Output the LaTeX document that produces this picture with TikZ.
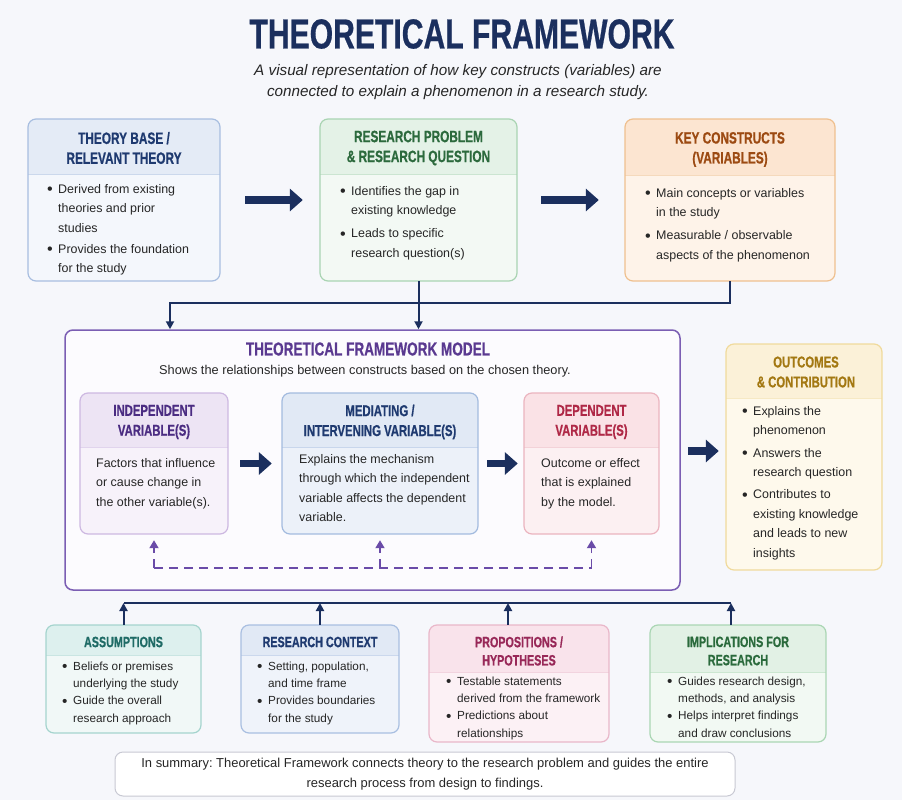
\documentclass[tikz,border=0pt]{standalone}
\usepackage{fontspec}
\setmainfont{Liberation Sans}
\newfontfamily\headfont[FakeStretch=0.72,FakeBold=0.6]{Liberation Sans}
\usetikzlibrary{arrows.meta,fit}
\frenchspacing

\definecolor{bgc}{HTML}{F6F7FB}
\definecolor{navy}{HTML}{1B2F5E}
\definecolor{ink}{HTML}{262626}
% card colours: hd = header, bd = body, ln = border, tx = title
\definecolor{tbhd}{HTML}{E4EBF6}\definecolor{tbbd}{HTML}{F4F7FC}\definecolor{tbln}{HTML}{A8BEE0}\definecolor{tbtx}{HTML}{1F3A70}
\definecolor{rphd}{HTML}{E4F2E7}\definecolor{rpbd}{HTML}{F3F9F4}\definecolor{rpln}{HTML}{A9D4B2}\definecolor{rptx}{HTML}{2C6A3D}
\definecolor{kchd}{HTML}{FCE5D1}\definecolor{kcbd}{HTML}{FEF3E9}\definecolor{kcln}{HTML}{EFC08F}\definecolor{kctx}{HTML}{9C4A12}
\definecolor{ivhd}{HTML}{EDE4F4}\definecolor{ivbd}{HTML}{F7F2FA}\definecolor{ivln}{HTML}{CDB8E1}\definecolor{ivtx}{HTML}{4B2C82}
\definecolor{mvhd}{HTML}{E1E9F5}\definecolor{mvbd}{HTML}{ECF1F9}\definecolor{mvln}{HTML}{A3BBDF}\definecolor{mvtx}{HTML}{1F3A70}
\definecolor{dvhd}{HTML}{FAE2E6}\definecolor{dvbd}{HTML}{FCF0F2}\definecolor{dvln}{HTML}{EBB4BF}\definecolor{dvtx}{HTML}{AF2846}
\definecolor{ochd}{HTML}{FBF1D8}\definecolor{ocbd}{HTML}{FEF9EC}\definecolor{ocln}{HTML}{F0DA9C}\definecolor{octx}{HTML}{A37812}
\definecolor{ashd}{HTML}{DDF0EE}\definecolor{asbd}{HTML}{F1F8F7}\definecolor{asln}{HTML}{A5D4CE}\definecolor{astx}{HTML}{1F6B66}
\definecolor{cthd}{HTML}{E1E9F5}\definecolor{ctbd}{HTML}{EFF3FA}\definecolor{ctln}{HTML}{A9BFE1}\definecolor{cttx}{HTML}{1F3A70}
\definecolor{pphd}{HTML}{F9E3EB}\definecolor{ppbd}{HTML}{FCF1F5}\definecolor{ppln}{HTML}{E9B7C9}\definecolor{pptx}{HTML}{982858}
\definecolor{imhd}{HTML}{E2F1E5}\definecolor{imbd}{HTML}{F2F9F3}\definecolor{imln}{HTML}{AAD6B3}\definecolor{imtx}{HTML}{2A6A3C}
\definecolor{mdln}{HTML}{7B5EB3}\definecolor{mdtx}{HTML}{5A3990}\definecolor{mdbd}{HTML}{FCFBFE}
\definecolor{fbc}{HTML}{6A4BA8}\definecolor{smln}{HTML}{C8C9D3}

\newcommand\bl{\makebox[11bp][l]{\raisebox{-1.6bp}{\scalebox{1.3}{\textbullet}}}}
\newcommand\hg{\hspace*{11bp}}

\begin{document}
\begin{tikzpicture}[x=1bp, y=-1bp,
    hd/.style={font=\headfont\bfseries\fontsize{16.5}{20}\selectfont, align=center, inner sep=0},
    hdmd/.style={font=\headfont\bfseries\fontsize{15.8}{20}\selectfont, align=center, inner sep=0},
    hdsm/.style={font=\headfont\bfseries\fontsize{15}{18.3}\selectfont, align=center, inner sep=0},
    txt/.style={font=\fontsize{12.5}{19.5}\selectfont, text=ink, align=left, anchor=north west, inner sep=0},
    txtsm/.style={txt, font=\fontsize{11.8}{17.4}\selectfont},
    big/.style={line width=7.5bp, navy, -{Triangle[length=13bp,width=22bp]}},
    conn/.style={line width=2bp, navy},
    fb/.style={line width=1.8bp, fbc, dash pattern=on 9bp off 6bp}]

    \fill[bgc] (0,0) rectangle (902,800);
    \useasboundingbox (0,0) rectangle (902,800);

    % heading
    \node[font=\headfont\bfseries\fontsize{42}{44}\selectfont, text=navy] (title) at (462,34) {THEORETICAL FRAMEWORK};
    \node[font=\itshape\fontsize{15.3}{21}\selectfont, text=ink, align=center] (sub) at (458,82)
        {A visual representation of how key constructs (variables) are\\connected to explain a phenomenon in a research study.};

    % framework model frame
    \node[fit={(65,330) (680,590)}, inner sep=0, draw=mdln, fill=mdbd, line width=1.5bp, rounded corners=8bp] (model) {};
    \node[hd, text=mdtx, font=\headfont\bfseries\fontsize{18.9}{20}\selectfont] (mtitle) at (368,349) {THEORETICAL FRAMEWORK MODEL};
    \node[font=\fontsize{12.8}{15}\selectfont, text=ink] (msub) at (365,371) {Shows the relationships between constructs based on the chosen theory.};

    % cards with a tinted header band
    \foreach \n/\xa/\ya/\xb/\yb/\yh/\cl in {theory/28/119/220/281/174/tb, problem/320/119/517/281/174/rp,
        constructs/625/119/835/281/175/kc, indep/80/393/228/534/447.5/iv, med/282/393/478/534/447.5/mv,
        dep/524/393/659/534/447.5/dv, outc/726/344/882/570/398/oc, assm/46/625/201/733/655/as,
        ctx/241/625/399/733/655/ct, prop/429/625/609/742/672.7/pp, impl/650/625/826/742/672.7/im} {
        \node[fit={(\xa,\ya) (\xb,\yb)}, inner sep=0] (\n) {};
        \begin{scope}
            \clip[rounded corners=8bp] (\xa,\ya) rectangle (\xb,\yb);
            \fill[\cl bd] (\xa,\ya) rectangle (\xb,\yb);
            \fill[\cl hd] (\xa,\ya) rectangle (\xb,\yh);
        \end{scope}
        \draw[\cl ln!60, line width=0.6bp] (\xa,\yh) -- (\xb,\yh);
        \draw[\cl ln, line width=1.2bp, rounded corners=8bp] (\xa,\ya) rectangle (\xb,\yb);
    }

    % card titles
    \node[hd, text=tbtx] (theoryT) at (124,148) {THEORY BASE /\\RELEVANT THEORY};
    \node[hd, text=rptx] (problemT) at (418.5,148) {RESEARCH PROBLEM\\\& RESEARCH QUESTION};
    \node[hd, text=kctx] (constructsT) at (730,149.5) {KEY CONSTRUCTS\\(VARIABLES)};
    \node[hdmd, text=ivtx] (indepT) at (154,422) {INDEPENDENT\\VARIABLE(S)};
    \node[hdmd, text=mvtx] (medT) at (380,422) {MEDIATING /\\INTERVENING VARIABLE(S)};
    \node[hdmd, text=dvtx] (depT) at (591.5,422) {DEPENDENT\\VARIABLE(S)};
    \node[hdmd, text=octx] (outcT) at (806,372) {OUTCOMES\\\& CONTRIBUTION};
    \node[hdsm, text=astx] (assmT) at (123.5,642) {ASSUMPTIONS};
    \node[hdsm, text=cttx] (ctxT) at (320,642) {RESEARCH CONTEXT};
    \node[hdsm, text=pptx] (propT) at (519,651) {PROPOSITIONS /\\HYPOTHESES};
    \node[hdsm, text=imtx] (implT) at (738,651) {IMPLICATIONS FOR\\RESEARCH};

    % card texts
    \node[txt] (theoryB) at (47,184) {\bl Derived from existing\\\hg theories and prior\\\hg studies\\[1.5bp]
        \bl Provides the foundation\\\hg for the study};
    \node[txt] (problemB) at (340,186) {\bl Identifies the gap in\\\hg existing knowledge\\[3.5bp]
        \bl Leads to specific\\\hg research question(s)};
    \node[txt] (constructsB) at (645,188) {\bl Main concepts or variables\\\hg in the study\\[3.5bp]
        \bl Measurable / observable\\\hg aspects of the phenomenon};
    \node[txt] (indepB) at (96,458) {Factors that influence\\or cause change in\\the other variable(s).};
    \node[txt] (medB) at (299,454) {Explains the mechanism\\through which the independent\\variable affects the dependent\\variable.};
    \node[txt] (depB) at (541,458) {Outcome or effect\\that is explained\\by the model.};
    \node[txt] (outcB) at (742,406) {\bl Explains the\\\hg phenomenon\\[3bp]
        \bl Answers the\\\hg research question\\[3bp]
        \bl Contributes to\\\hg existing knowledge\\\hg and leads to new\\\hg insights};
    \node[txtsm] (assmB) at (62,661.5) {\bl Beliefs or premises\\\hg underlying the study\\
        \bl Guide the overall\\\hg research approach};
    \node[txtsm] (ctxB) at (257,661.5) {\bl Setting, population,\\\hg and time frame\\
        \bl Provides boundaries\\\hg for the study};
    \node[txtsm] (propB) at (446,676.5) {\bl Testable statements\\\hg derived from the framework\\
        \bl Predictions about\\\hg relationships};
    \node[txtsm] (implB) at (667,676.5) {\bl Guides research design,\\\hg methods, and analysis\\
        \bl Helps interpret findings\\\hg and draw conclusions};

    % summary
    \node[fit={(115,752) (735,796)}, inner sep=0, draw=smln, fill=white, line width=1bp, rounded corners=8bp] (summary) {};
    \node[font=\fontsize{13}{19.5}\selectfont, text=ink, align=center] (summaryT) at (summary.center)
        {In summary: Theoretical Framework connects theory to the research problem and guides the entire\\research process from design to findings.};

    % flow arrows
    \draw[big, shorten <=25bp, shorten >=17bp] (theory.east) -- (problem.west);
    \draw[big, shorten <=24bp, shorten >=26bp] (problem.east) -- (constructs.west);
    \draw[big, shorten <=12bp, shorten >=10bp] (indep.east) -- (med.west);
    \draw[big, shorten <=9bp, shorten >=6bp] (med.east) -- (dep.west);
    \draw[big, shorten <=7bp, shorten >=7bp] ([yshift=6bp]outc.west -| model.east) -- ([yshift=6bp]outc.west);

    % links into the model
    \coordinate (topbus) at (170,303);
    \draw[conn, -{Triangle[length=8bp,width=8bp]}] (problem.south) -- (problem.south |- model.north);
    \draw[conn, -{Triangle[length=8bp,width=8bp]}] (constructs.south) |- (topbus) -- (topbus |- model.north);

    % feedback loop
    \draw[fb] ([yshift=-34bp]indep.south) -- ([yshift=-34bp]dep.south);
    \foreach \n in {indep,med,dep}
        \draw[fb, -{Triangle[length=8bp,width=9bp]}] ([yshift=-34bp]\n.south) -- ([yshift=-6bp]\n.south);

    % supporting elements
    \coordinate (busL) at (124,603);
    \coordinate (busR) at (731,603);
    \draw[conn] (busL) -- (busR);
    \draw[conn, -{Triangle[length=8bp,width=8bp]}] (assm.north) -- (assm.north |- busL);
    \draw[conn, -{Triangle[length=8bp,width=8bp]}] (ctx.north) -- (ctx.north |- busL);
    \draw[conn, -{Triangle[length=8bp,width=8bp]}] ([xshift=-11bp]prop.north) -- ([xshift=-11bp]prop.north |- busL);
    \draw[conn, -{Triangle[length=8bp,width=8bp]}] ([xshift=-7bp]impl.north) -- ([xshift=-7bp]impl.north |- busL);
\end{tikzpicture}
\end{document}
